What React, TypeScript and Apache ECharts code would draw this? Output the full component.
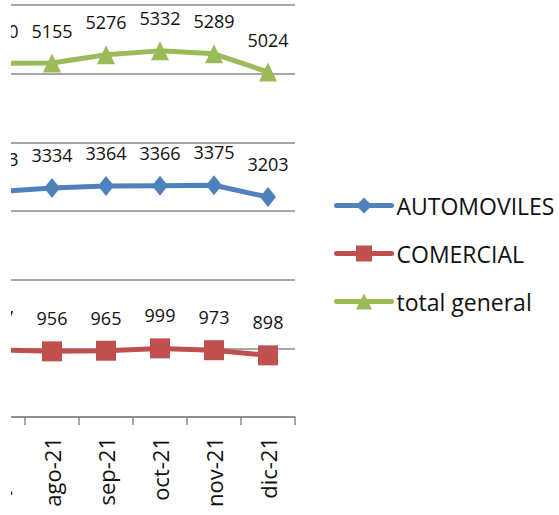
import React, { useEffect, useRef } from "react";
import * as echarts from "echarts";

const categories = ["jul-21", "ago-21", "sep-21", "oct-21", "nov-21", "dic-21"];
const automoviles = [3283, 3334, 3364, 3366, 3375, 3203];
const comercial = [977, 956, 965, 999, 973, 898];
const totalGeneral = [5150, 5155, 5276, 5332, 5289, 5024];
const seriesNames = ["AUTOMOVILES", "COMERCIAL", "total general"];
const colors = ["#4F81BD", "#C0504D", "#9BBB59"];

const FONT = "'Open Sans', 'Noto Sans', sans-serif";

export default function App() {
  const ref = useRef<HTMLDivElement>(null);
  useEffect(() => {
    if (!ref.current) return;
    const chart = echarts.init(ref.current, undefined, { renderer: "svg" });
    const mkLabel = {
      show: true,
      position: "top" as const,
      distance: 14,
      fontSize: 18,
      fontFamily: FONT,
      color: "#111",
    };
    const mkSeries = (name: string, data: number[], color: string, symbol: string, size: number[]) => ({
      name,
      type: "line",
      data,
      symbol,
      symbolSize: size,
      itemStyle: { color },
      lineStyle: { color, width: 5, cap: "round", join: "round" },
      label: mkLabel,
      emphasis: { disabled: true },
    });
    chart.setOption({
      animation: false,
      textStyle: { fontFamily: FONT },
      grid: { left: 20, right: 264, top: 5, bottom: 98, containLabel: false },
      legend: {
        orient: "vertical",
        left: 383,
        top: 194,
        padding: 0,
        itemWidth: 55,
        itemHeight: 20,
        itemGap: 25,
        data: seriesNames,
        lineStyle: { width: 5, cap: "round" },
        textStyle: { fontSize: 23, lineHeight: 23, fontFamily: FONT, color: "#111" },
      },
      xAxis: {
        type: "category",
        data: categories,
        boundaryGap: true,
        axisLine: { lineStyle: { color: "#8a8a8a", width: 1.5 } },
        axisTick: { show: true, length: 8, lineStyle: { color: "#8a8a8a", width: 1.5 } },
        axisLabel: { rotate: 90, margin: 20, fontSize: 22, fontFamily: FONT, color: "#111" },
      },
      yAxis: {
        type: "value",
        min: 0,
        max: 6000,
        interval: 1000,
        axisLine: { show: false },
        axisTick: { show: false },
        axisLabel: { show: false },
        splitLine: { lineStyle: { color: "#8a8a8a", width: 1.5 } },
      },
      series: [
        mkSeries(seriesNames[0], automoviles, colors[0], "diamond", [16, 20]),
        mkSeries(seriesNames[1], comercial, colors[1], "rect", [20, 20]),
        mkSeries(seriesNames[2], totalGeneral, colors[2], "triangle", [18, 19]),
      ],
    });
    return () => chart.dispose();
  }, []);
  return (
    <div
      style={{
        position: "absolute",
        left: 11,
        top: 0,
        width: 548,
        height: 515,
        overflow: "hidden",
        background: "#fff",
      }}
    >
      <div ref={ref} style={{ position: "absolute", left: -60, top: 0, width: 608, height: 515 }} />
    </div>
  );
}
